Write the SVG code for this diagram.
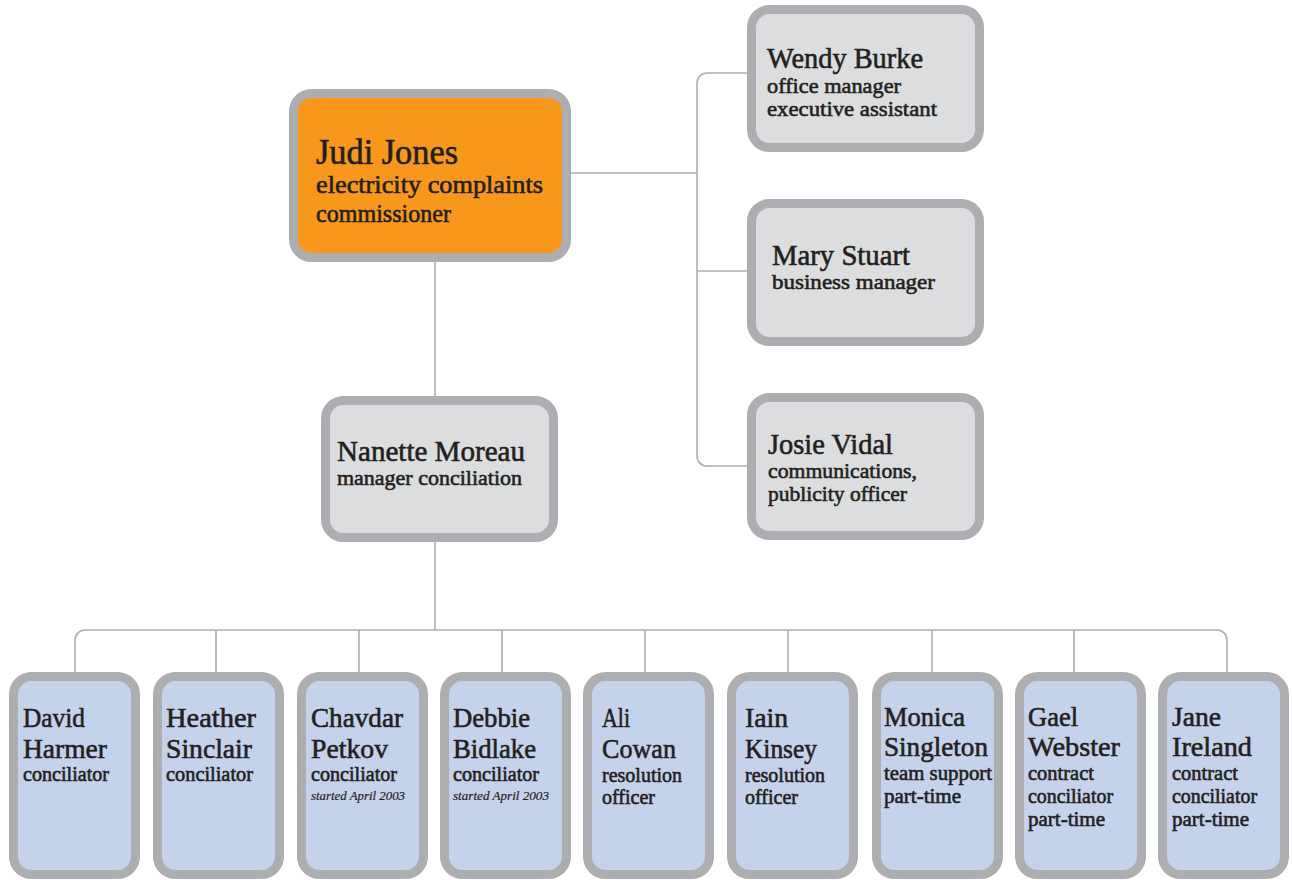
<svg xmlns="http://www.w3.org/2000/svg" width="1292" height="880" viewBox="0 0 1292 880">
<style>
.bx{stroke:#ADAEB2;stroke-width:9}
.or{fill:#F7981D}
.gr{fill:#DCDDDF}
.bl{fill:#C5D3EA}
.cn{fill:none;stroke:#ADAEB2;stroke-width:1.6}
text{font-family:"Liberation Serif","Times New Roman",serif;fill:#231F20;stroke:#231F20;stroke-width:0.6}
.n1{font-size:36px}
.s1{font-size:26px}
.n2{font-size:30px}
.s2{font-size:22px}
.n3{font-size:28px}
.s3{font-size:21px}
.it{font-size:13px;font-style:italic;stroke-width:0.2}
</style>
<rect width="1292" height="880" fill="#ffffff"/>
<g id="connectors">
<path class="cn" d="M571 173 H697"/>
<path class="cn" d="M747 73 H707 A10 10 0 0 0 697 83 V456 A10 10 0 0 0 707 466 H747"/>
<path class="cn" d="M697 271 H747"/>
<path class="cn" d="M435 262 V396"/>
<path class="cn" d="M435 542 V630"/>
<path class="cn" d="M75 672 V640 A10 10 0 0 1 85 630 H1217 A10 10 0 0 1 1227 640 V672"/>
<path class="cn" d="M216 630 V672 M359 630 V672 M502 630 V672 M645 630 V672 M788 630 V672 M932 630 V672 M1074 630 V672"/>
</g>
<g id="judi">
<rect class="bx or" x="293.5" y="93.5" width="273" height="164" rx="18"/>
<text class="n1" x="316" y="164" textLength="142" lengthAdjust="spacingAndGlyphs">Judi Jones</text>
<text class="s1" x="316" y="193" textLength="227" lengthAdjust="spacingAndGlyphs">electricity complaints</text>
<text class="s1" x="316" y="222" textLength="135" lengthAdjust="spacingAndGlyphs">commissioner</text>
</g>
<g id="wendy">
<rect class="bx gr" x="751.5" y="9.5" width="228" height="138" rx="18"/>
<text class="n2" x="767" y="68" textLength="156" lengthAdjust="spacingAndGlyphs">Wendy Burke</text>
<text class="s2" x="767" y="93" textLength="134" lengthAdjust="spacingAndGlyphs">office manager</text>
<text class="s2" x="767" y="116" textLength="170" lengthAdjust="spacingAndGlyphs">executive assistant</text>
</g>
<g id="mary">
<rect class="bx gr" x="751.5" y="203.5" width="228" height="138" rx="18"/>
<text class="n2" x="772" y="265" textLength="138" lengthAdjust="spacingAndGlyphs">Mary Stuart</text>
<text class="s2" x="772" y="289" textLength="163" lengthAdjust="spacingAndGlyphs">business manager</text>
</g>
<g id="josie">
<rect class="bx gr" x="751.5" y="397.5" width="228" height="138" rx="18"/>
<text class="n2" x="768" y="454" textLength="125" lengthAdjust="spacingAndGlyphs">Josie Vidal</text>
<text class="s2" x="768" y="478" textLength="149" lengthAdjust="spacingAndGlyphs">communications,</text>
<text class="s2" x="768" y="501" textLength="139" lengthAdjust="spacingAndGlyphs">publicity officer</text>
</g>
<g id="nanette">
<rect class="bx gr" x="325.5" y="400.5" width="228" height="137" rx="18"/>
<text class="n2" x="337" y="461" textLength="188" lengthAdjust="spacingAndGlyphs">Nanette Moreau</text>
<text class="s2" x="337" y="485" textLength="185" lengthAdjust="spacingAndGlyphs">manager conciliation</text>
</g>
<g id="david">
<rect class="bx bl" x="13.5" y="676.5" width="122" height="198" rx="18"/>
<text class="n3" x="23" y="727" textLength="62" lengthAdjust="spacingAndGlyphs">David</text>
<text class="n3" x="23" y="758" textLength="84" lengthAdjust="spacingAndGlyphs">Harmer</text>
<text class="s3" x="23" y="781" textLength="86" lengthAdjust="spacingAndGlyphs">conciliator</text>
</g>
<g id="heather">
<rect class="bx bl" x="157.5" y="676.5" width="122" height="198" rx="18"/>
<text class="n3" x="166" y="727" textLength="90" lengthAdjust="spacingAndGlyphs">Heather</text>
<text class="n3" x="166" y="758" textLength="86" lengthAdjust="spacingAndGlyphs">Sinclair</text>
<text class="s3" x="166" y="781" textLength="87" lengthAdjust="spacingAndGlyphs">conciliator</text>
</g>
<g id="chavdar">
<rect class="bx bl" x="301.5" y="676.5" width="122" height="198" rx="18"/>
<text class="n3" x="311" y="727" textLength="92" lengthAdjust="spacingAndGlyphs">Chavdar</text>
<text class="n3" x="311" y="758" textLength="77" lengthAdjust="spacingAndGlyphs">Petkov</text>
<text class="s3" x="311" y="781" textLength="86" lengthAdjust="spacingAndGlyphs">conciliator</text>
<text class="it" x="311" y="800" textLength="94" lengthAdjust="spacingAndGlyphs">started April 2003</text>
</g>
<g id="debbie">
<rect class="bx bl" x="444.5" y="676.5" width="122" height="198" rx="18"/>
<text class="n3" x="453" y="727" textLength="77" lengthAdjust="spacingAndGlyphs">Debbie</text>
<text class="n3" x="453" y="758" textLength="83" lengthAdjust="spacingAndGlyphs">Bidlake</text>
<text class="s3" x="453" y="781" textLength="86" lengthAdjust="spacingAndGlyphs">conciliator</text>
<text class="it" x="453" y="800" textLength="96" lengthAdjust="spacingAndGlyphs">started April 2003</text>
</g>
<g id="ali">
<rect class="bx bl" x="587.5" y="676.5" width="122" height="198" rx="18"/>
<text class="n3" x="602" y="727" textLength="28" lengthAdjust="spacingAndGlyphs">Ali</text>
<text class="n3" x="602" y="758" textLength="74" lengthAdjust="spacingAndGlyphs">Cowan</text>
<text class="s3" x="602" y="782" textLength="80" lengthAdjust="spacingAndGlyphs">resolution</text>
<text class="s3" x="602" y="804" textLength="53" lengthAdjust="spacingAndGlyphs">officer</text>
</g>
<g id="iain">
<rect class="bx bl" x="731.5" y="676.5" width="122" height="198" rx="18"/>
<text class="n3" x="745" y="727" textLength="43" lengthAdjust="spacingAndGlyphs">Iain</text>
<text class="n3" x="745" y="758" textLength="72" lengthAdjust="spacingAndGlyphs">Kinsey</text>
<text class="s3" x="745" y="782" textLength="80" lengthAdjust="spacingAndGlyphs">resolution</text>
<text class="s3" x="745" y="804" textLength="53" lengthAdjust="spacingAndGlyphs">officer</text>
</g>
<g id="monica">
<rect class="bx bl" x="876.5" y="676.5" width="122" height="198" rx="18"/>
<text class="n3" x="884" y="726" textLength="81" lengthAdjust="spacingAndGlyphs">Monica</text>
<text class="n3" x="884" y="756" textLength="104" lengthAdjust="spacingAndGlyphs">Singleton</text>
<text class="s3" x="884" y="780" textLength="108" lengthAdjust="spacingAndGlyphs">team support</text>
<text class="s3" x="884" y="803" textLength="77" lengthAdjust="spacingAndGlyphs">part-time</text>
</g>
<g id="gael">
<rect class="bx bl" x="1019.5" y="676.5" width="122" height="198" rx="18"/>
<text class="n3" x="1028" y="726" textLength="50" lengthAdjust="spacingAndGlyphs">Gael</text>
<text class="n3" x="1028" y="756" textLength="92" lengthAdjust="spacingAndGlyphs">Webster</text>
<text class="s3" x="1028" y="780" textLength="66" lengthAdjust="spacingAndGlyphs">contract</text>
<text class="s3" x="1028" y="803" textLength="85" lengthAdjust="spacingAndGlyphs">conciliator</text>
<text class="s3" x="1028" y="826" textLength="77" lengthAdjust="spacingAndGlyphs">part-time</text>
</g>
<g id="jane">
<rect class="bx bl" x="1162.5" y="676.5" width="122" height="198" rx="18"/>
<text class="n3" x="1172" y="726" textLength="49" lengthAdjust="spacingAndGlyphs">Jane</text>
<text class="n3" x="1172" y="756" textLength="80" lengthAdjust="spacingAndGlyphs">Ireland</text>
<text class="s3" x="1172" y="780" textLength="66" lengthAdjust="spacingAndGlyphs">contract</text>
<text class="s3" x="1172" y="803" textLength="85" lengthAdjust="spacingAndGlyphs">conciliator</text>
<text class="s3" x="1172" y="826" textLength="77" lengthAdjust="spacingAndGlyphs">part-time</text>
</g>
</svg>
